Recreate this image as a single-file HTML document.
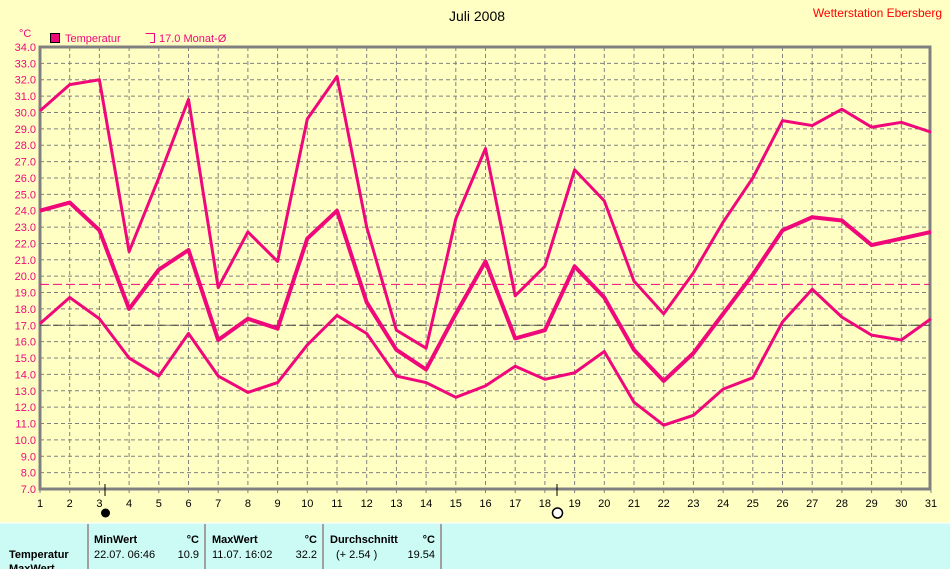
<!DOCTYPE html>
<html><head><meta charset="utf-8"><style>
html,body{margin:0;padding:0;width:950px;height:569px;overflow:hidden;background:#ffffc4;font-family:"Liberation Sans",sans-serif}
svg{position:absolute;left:0;top:0}
</style></head><body>
<svg id="s" width="950" height="569" xmlns="http://www.w3.org/2000/svg" font-family="Liberation Sans, sans-serif">
<rect x="0" y="0" width="950" height="523" fill="#ffffc4"/>
<rect x="0" y="523" width="950" height="46" fill="#ccfaf5"/>
<line x1="0" y1="523" x2="950" y2="523" stroke="#fff" stroke-width="1"/>
<text x="477" y="21" font-size="14" text-anchor="middle" fill="#000">Juli 2008</text>
<text x="942" y="17" font-size="12" text-anchor="end" fill="#f00">Wetterstation Ebersberg</text>
<text x="19" y="37" font-size="11" fill="#f0087a">°C</text>
<rect x="50.5" y="33.5" width="9" height="9" fill="#f0087a" stroke="#000"/>
<text x="65" y="42" font-size="11" fill="#f0087a">Temperatur</text>
<path d="M145.5 33.5 H154.5 V42.5 H150" fill="none" stroke="#f0087a"/>
<text x="159" y="42" font-size="11" fill="#f0087a">17.0 Monat-Ø</text>
<g id="g"></g>
</svg>
<script>
var g=document.getElementById('g'),h='';
function X(d){return 40+(d-1)*29.7}
function Y(v){return 47+(34-v)*16.37}
for(var v=7;v<=34;v++){var y=Y(v);
 if(v>7&&v<34)h+='<line x1="40" y1="'+y+'" x2="930" y2="'+y+'" stroke="#808080" stroke-dasharray="4,3"/>';
 h+='<text x="36" y="'+(y+4)+'" font-size="11" text-anchor="end" fill="#f0087a">'+v.toFixed(1)+'</text>';}
for(var d=1;d<=31;d++){var x=X(d);
 if(d>1&&d<31)h+='<line x1="'+x+'" y1="47" x2="'+x+'" y2="489" stroke="#808080" stroke-dasharray="4,3"/>';
 h+='<line x1="'+x+'" y1="489" x2="'+x+'" y2="493" stroke="#808080"/>';
 h+='<text x="'+x+'" y="507" font-size="11" text-anchor="middle" fill="#000">'+d+'</text>';}
h+='<path d="M40 47 H930 V489 H40 Z" fill="none" stroke="#808080" stroke-width="3"/>';
h+='<line x1="40" y1="'+Y(19.5)+'" x2="930" y2="'+Y(19.5)+'" stroke="#f0087a" stroke-dasharray="9,4"/>';
h+='<line x1="40" y1="'+Y(17)+'" x2="930" y2="'+Y(17)+'" stroke="#404040" stroke-dasharray="9,4"/>';
var mx=[30.1,31.7,32.0,21.5,26.0,30.8,19.3,22.7,20.9,29.6,32.2,23.0,16.7,15.6,23.5,27.8,18.8,20.6,26.5,24.6,19.7,17.7,20.2,23.3,26.0,29.5,29.2,30.2,29.1,29.4,28.8];
var av=[24.0,24.5,22.8,18.0,20.4,21.6,16.1,17.4,16.8,22.3,24.0,18.4,15.5,14.3,17.7,20.9,16.2,16.7,20.6,18.7,15.5,13.6,15.3,17.7,20.1,22.8,23.6,23.4,21.9,22.3,22.7];
var mn=[17.1,18.7,17.4,15.0,13.9,16.5,13.9,12.9,13.5,15.8,17.6,16.5,13.9,13.5,12.6,13.3,14.5,13.7,14.1,15.4,12.3,10.9,11.5,13.1,13.8,17.2,19.2,17.5,16.4,16.1,17.4];
function pl(a,w){var p=a.map(function(v,i){return X(i+1)+','+Y(v)}).join(' ');return '<polyline points="'+p+'" fill="none" stroke="#f0087a" stroke-width="'+w+'" stroke-linejoin="round"/>';}
h+=pl(mx,3)+pl(mn,3)+pl(av,4);
h+='<line x1="105" y1="484" x2="105" y2="496" stroke="#000"/><circle cx="105.5" cy="513" r="4.5" fill="#000"/>';
h+='<line x1="557" y1="484" x2="557" y2="496" stroke="#000"/><circle cx="557.5" cy="513" r="5" fill="#fff" stroke="#000" stroke-width="1.5"/>';
[88,205,323,441].forEach(function(x){h+='<line x1="'+x+'" y1="524" x2="'+x+'" y2="569" stroke="#a0a0a0" stroke-width="2"/>';});
function t(x,y,s,b,a){h+='<text x="'+x+'" y="'+y+'" font-size="11" '+(b?'font-weight="bold" ':'')+(a?'text-anchor="end" ':'')+'fill="#000">'+s+'</text>';}
t(94,543,'MinWert',1);t(199,543,'°C',1,1);t(212,543,'MaxWert',1);t(317,543,'°C',1,1);t(330,543,'Durchschnitt',1);t(435,543,'°C',1,1);
t(9,558,'Temperatur',1);t(94,558,'22.07.  06:46');t(199,558,'10.9',0,1);t(212,558,'11.07.  16:02');t(317,558,'32.2',0,1);t(336,558,'(+ 2.54 )');t(435,558,'19.54',0,1);
t(9,572,'MaxWert',1);
g.innerHTML=h;
</script>
</body></html>
